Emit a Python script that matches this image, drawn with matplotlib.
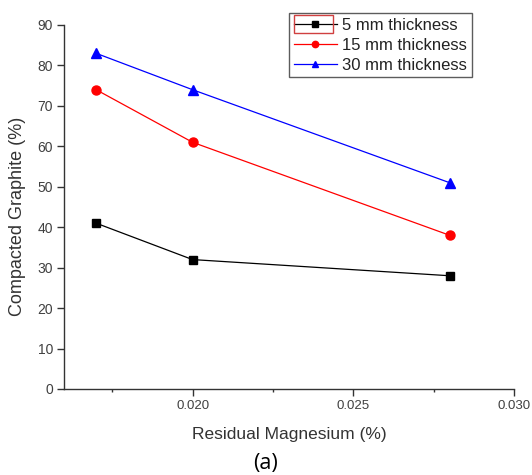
import matplotlib.pyplot as plt
from matplotlib.patches import Rectangle
from matplotlib.ticker import MultipleLocator

plt.rcParams['font.family'] = ['Liberation Sans', 'DejaVu Sans']

# data
mg = [0.017, 0.020, 0.028]
cg_5mm = [41, 32, 28]
cg_15mm = [74, 61, 38]
cg_30mm = [83, 74, 51]
labels = ['5 mm thickness', '15 mm thickness', '30 mm thickness']

fig = plt.figure(figsize=(5.32, 4.75), dpi=100)
ax = fig.add_axes([64/532, 1-389/475, (514-64)/532, (389-25)/475])

ax.plot(mg, cg_5mm, color='black', marker='s', ms=6, lw=0.9, label=labels[0])
ax.plot(mg, cg_15mm, color='red', marker='o', ms=6.5, lw=0.9, label=labels[1])
ax.plot(mg, cg_30mm, color='blue', marker='^', ms=7, lw=0.9, label=labels[2])

ax.set_xlim(0.016, 0.030)
ax.set_ylim(0, 90)
ax.xaxis.set_major_locator(MultipleLocator(0.005))
ax.xaxis.set_minor_locator(MultipleLocator(0.0025))
ax.yaxis.set_major_locator(MultipleLocator(10))
ax.set_xticks([0.020, 0.025, 0.030])
ax.set_xticklabels(['0.020', '0.025', '0.030'])

for s in ['top', 'right']:
    ax.spines[s].set_visible(False)
for s in ['left', 'bottom']:
    ax.spines[s].set_color('#333333')
    ax.spines[s].set_linewidth(1.0)

ax.tick_params(axis='both', which='major', direction='out', length=5, width=1,
               color='#333333', labelcolor='#404040', pad=3)
ax.tick_params(axis='y', which='major', labelsize=10)
ax.tick_params(axis='x', which='major', labelsize=9.5, pad=3)
ax.tick_params(axis='x', which='minor', direction='out', length=2.5, width=1, color='#333333')

ax.set_xlabel('Residual Magnesium (%)', fontsize=12.5, color='#333333')
ax.set_ylabel('Compacted Graphite (%)', fontsize=13, color='#333333')
ax.xaxis.set_label_coords((289 - 64) / 450, -(435 - 389) / 364)
ax.yaxis.set_label_coords(-(64 - 18) / 450, (389 - 216) / 364)
ax.xaxis.label.set_va('center')
ax.yaxis.label.set_va('center')

leg = ax.legend(loc='upper left', bbox_to_anchor=((289-64)/450, 1+12/364),
                fontsize=12, frameon=True, fancybox=False, handlelength=2.6,
                handletextpad=0.3, labelspacing=0.3, borderpad=0.28,
                borderaxespad=0, markerscale=0.7)
leg.get_frame().set_edgecolor('#333333')
leg.get_frame().set_linewidth(1.0)
for t in leg.get_texts():
    t.set_color('#222222')

# red selection box around first legend handle
fig.patches.append(Rectangle((294/532, 1-33/475), 39/532, 18/475, transform=fig.transFigure,
                             fill=False, edgecolor='#d04040', lw=1.0))

fig.text(266/532, 1-463/475, '(a)', fontsize=15.5, ha='center', va='center',
         family=['Open Sans', 'DejaVu Sans'], color='black')

fig.savefig('out.png', dpi=100)
